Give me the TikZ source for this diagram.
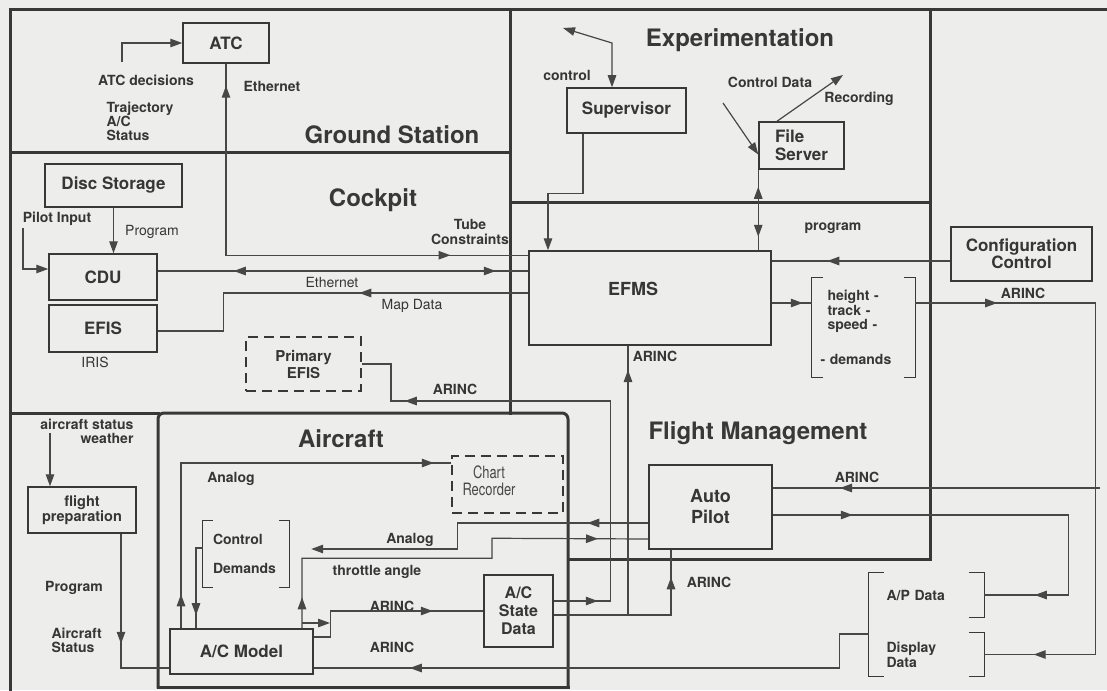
\documentclass[tikz,border=0pt]{standalone}
\usepackage{fontspec}
\setmainfont{TeX Gyre Heros}
\usepackage{graphicx}
\usepackage{tikz}
\usetikzlibrary{arrows.meta,positioning,calc,decorations.markings}
\definecolor{papel}{HTML}{EDEDEB}
\definecolor{tinta}{HTML}{363636}
\definecolor{trazo}{HTML}{474747}
\definecolor{marco}{HTML}{383838}
\newcommand{\letra}[2]{\fontsize{#1}{#2}\selectfont}

\begin{document}
\begin{tikzpicture}[x=1pt,y=-1pt,
  >={Triangle[length=12pt,width=8.5pt]},
  every node/.style={text=tinta,font=\letra{14}{14}\bfseries},
  caja/.style={draw=marco,line width=1.5pt,fill=papel,inner sep=0pt,align=center,
               font=\letra{17}{18}\bfseries},
  cajadisc/.style={caja,dash pattern=on 10pt off 6pt},
  region/.style={draw=marco,line width=3pt,line cap=rect},
  conector/.style={color=trazo,line width=1.2pt},
  flecha/.style={conector,->},
  punta/.style={postaction={decorate,decoration={markings,
      mark=at position #1 with {\arrow{>}}}}},
  puntainv/.style={postaction={decorate,decoration={markings,
      mark=at position #1 with {\arrowreversed{>}}}}},
  corchete/.style={inner sep=0pt,align=left},
  llave/.style={draw=marco,line width=1.3pt},
  titulo/.style={font=\letra{24}{26}\bfseries,text=marco},
  fino/.style={font=\letra{14}{14}}
]
\useasboundingbox (0,0) rectangle (1107,690);
\fill[papel] (0,0) rectangle (1107,690);

% areas
\draw[region] (10,690) -- (10,10) -- (1107,10);
\draw[region] (510,10) -- (510,413);
\draw[region] (10,152) -- (510,152);
\draw[region] (510,202) -- (930,202);
\draw[region] (930,10) -- (930,559) -- (568,559);
\draw[region] (10,413) -- (158,413);
\draw[region,rounded corners=6pt] (158,687) -- (158,413) -- (568,413) -- (568,687);
\draw[region] (158,687) -- (568,687);

\node[titulo] (tgs) at (392,135) {Ground Station};
\node[titulo] (tck) at (373,200) {Cockpit};
\node[titulo] (tex) at (740,40) {Experimentation};
\node[titulo] (tfm) at (758,433) {Flight Management};
\node[titulo] (tac) at (341,439) {Aircraft};

% blocks
\node[caja,minimum width=86pt,minimum height=40pt] (atc) at (226,43) {ATC};
\node[caja,minimum width=137pt,minimum height=43pt] (disco) at (113.5,185.5) {Disc Storage};
\node[caja,minimum width=108pt,minimum height=46pt] (cdu) at (103,277) {CDU};
\node[caja,minimum width=108pt,minimum height=47pt] (efis) at (103,328.5) {EFIS};
\node[cajadisc,minimum width=115pt,minimum height=54pt,font=\letra{15}{17}\bfseries]
  (primario) at (303.5,364) {Primary\\EFIS};
\node[caja,minimum width=119pt,minimum height=45pt] (supervisor) at (626.5,110.5) {Supervisor};
\node[caja,minimum width=85pt,minimum height=47pt,align=left] (servidor) at (801.5,145.5) {File\\Server};
\node[caja,minimum width=242pt,minimum height=94pt,
  label={[xshift=-17pt,yshift=9pt,font=\letra{18}{18}\bfseries]center:EFMS}] (efms) at (650,298) {};
\node[caja,minimum width=141pt,minimum height=54pt,font=\letra{17}{16}\bfseries]
  (configuracion) at (1021.5,254) {Configuration\\Control};
\node[caja,minimum width=123pt,minimum height=84pt,font=\letra{18}{21}\bfseries]
  (autopiloto) at (710.5,507) {Auto\\Pilot};
\node[caja,minimum width=69pt,minimum height=72pt,font=\letra{16}{18}\bfseries]
  (estado) at (518.5,611) {A/C\\State\\Data};
\node[caja,minimum width=143pt,minimum height=45pt] (modelo) at (241.5,651.5) {A/C Model};
\node[cajadisc,minimum width=111pt,minimum height=57pt,
  label={[xshift=-18.5pt,yshift=4pt,align=center,font=\letra{17}{17},text=trazo]center:{\scalebox{0.76}[1]{Chart}\\\scalebox{0.76}[1]{Recorder}}}]
  (registrador) at (507.5,484.5) {};
\node[caja,minimum width=108pt,minimum height=46pt,font=\letra{14.5}{15}\bfseries]
  (preparacion) at (82,510) {flight\\preparation};

% bracketed groups
\node[corchete,text width=72pt,minimum width=103pt,minimum height=99pt,font=\letra{14}{14.5}\bfseries]
  (demandas) at (863.5,327.5) {height -\\track -\\speed -\\[20pt]\hspace*{-7pt}- demands};
\node[corchete,text width=66pt,minimum width=86pt,minimum height=66pt,font=\letra{14}{16}\bfseries]
  (demctrl) at (246,554) {Control\\[13pt]Demands};
\node[corchete,text width=80pt,minimum width=115pt,minimum height=44pt] (apdatos) at (926.5,595) {A/P Data};
\node[corchete,text width=80pt,minimum width=115pt,minimum height=43pt,font=\letra{14}{15}\bfseries]
  (visdatos) at (926.5,654.5) {Display\\Data};
\draw[llave] ([xshift=11pt]demandas.north west) -- (demandas.north west) -- (demandas.south west) -- ++(11,0);
\draw[llave] ([xshift=-11pt]demandas.north east) -- (demandas.north east) -- (demandas.south east) -- ++(-11,0);
\draw[llave] ([xshift=10pt]demctrl.north west) -- (demctrl.north west) -- (demctrl.south west) -- ++(10,0);
\draw[llave] ([xshift=-10pt]demctrl.north east) -- (demctrl.north east) -- (demctrl.south east) -- ++(-10,0);
\draw[llave] ([xshift=15pt]apdatos.north west) -- (apdatos.north west) -- (visdatos.south west) -- ++(15,0);
\draw[llave] ([xshift=-15pt]apdatos.north east) -- (apdatos.north east) -- (apdatos.south east) -- ++(-15,0);
\draw[llave] ([xshift=-15pt]visdatos.north east) -- (visdatos.north east) -- (visdatos.south east) -- ++(-15,0);

% labels
\foreach \x/\y [count=\n] in {455/389,1023/293,655/356,857/477,709/582,392/606,392/647}
  \node (arinc\n) at (\x,\y) {ARINC};
\node (decisiones) at (146,80) {ATC decisions};
\node[anchor=west,align=left] (trayectoria) at (103,121) {Trajectory\\A/C\\Status};
\node[anchor=west] (ethatc) at (240,86) {Ethernet};
\node (pilotin) at (57,219) {Pilot Input};
\node[fino] (progcdu) at (152,232) {Program};
\node[align=center,font=\letra{14}{15}\bfseries] (tubo) at (470,232) {Tube\\Constraints};
\node[fino] (ethcdu) at (332,282) {Ethernet};
\node[fino] (mapa) at (412,306) {Map Data};
\node[fino] (iris) at (95,362) {IRIS};
\node (ctrl) at (567,75) {control};
\node (ctrldata) at (770,82) {Control Data};
\node (grab) at (859,99) {Recording};
\node (prog) at (833,228) {program};
\node (analog1) at (231,479) {Analog};
\node (analog2) at (410,540) {Analog};
\node (acelerador) at (377,572) {throttle angle};
\node[anchor=east,align=right] (meteo) at (137,431) {aircraft status\\weather};
\node (progprep) at (74,588) {Program};
\node[anchor=west,align=left] (estadoavion) at (48,640) {Aircraft\\Status};

% ground station and cockpit links
\coordinate (decis) at (122,62);
\draw[flecha] (decis) |- (atc.west);
\draw[conector,puntainv=22pt,punta=416pt] (atc.south) |- ([yshift=-5pt]efms.north west);
\draw[flecha] (disco.south) -- (disco.south |- cdu.north);
\coordinate (piloto) at (23,228);
\draw[flecha] (piloto) |- ([yshift=8pt]cdu.west);
\draw[conector,puntainv=76pt,punta=338pt] ([yshift=6pt]cdu.east) -- ([yshift=6pt]cdu.east -| efms.west);
\draw[conector,punta=169pt] ([yshift=5pt]efms.west) -- ++(-305,0) |- ([yshift=-2.5pt]efis.east);
\draw[conector,punta=44pt,punta=463pt] ([yshift=10pt]estado.east) -- ++(57,0) |- (391,401) |- (primario.east);

% experimentation links
\coordinate (mando) at (563,28);
\draw[conector,<->] (mando) -- (612,43) -- ([xshift=-14.5pt]supervisor.north);
\draw[flecha] ([xshift=-43.5pt]supervisor.south) -- ++(0,60) -| ([xshift=-102pt]efms.north);
\coordinate (datosctl) at (723,103);
\draw[flecha] (datosctl) -- ([yshift=-9pt]servidor.west);
\coordinate (registro) at (843,75);
\draw[flecha] ([xshift=-24.5pt]servidor.north) -- (registro);
\draw[conector,puntainv=17pt,punta=67pt] (servidor.south west) -- (servidor.south west |- efms.north);

% flight management links
\draw[conector,punta=123pt] ([yshift=-7pt]configuracion.west) -- ([yshift=-7pt]configuracion.west -| efms.east);
\draw[conector,punta=31pt] ([yshift=-5pt]efms.east) -- ([yshift=-5pt]efms.east -| demandas.west);
\draw[conector,punta=82pt,punta=593pt] ([yshift=24.5pt]demandas.east) -- ++(180,0) |- (visdatos.east);
\draw[conector,punta=80pt,punta=410pt] ([yshift=-8pt]autopiloto.east) -- ++(296,0) |- (apdatos.east);
\coordinate (entrada) at (1100,488);
\draw[conector,punta=260pt] (entrada) -- (entrada -| autopiloto.east);
\draw[conector,punta=155pt] ([yshift=-4pt]estado.east) -| ([xshift=-39.5pt]autopiloto.south);
\coordinate (rama) at (628,615);
\draw[conector,punta=245pt] (rama) -- (rama |- efms.south);

% aircraft links
\draw[flecha,punta=61pt] ([yshift=-16pt]autopiloto.west) -- ++(-191,0) |- ([xshift=22pt,yshift=5pt]demctrl.east);
\draw[conector,punta=31pt,punta=386pt] ([xshift=60.5pt]modelo.north) -- ++(0,-70) -- ++(190,0)
  -- ++(0,-20) -- ([yshift=-32pt]autopiloto.west);
\draw[conector,punta=34pt,punta=418pt] ([xshift=-60.5pt]modelo.north) |- ([yshift=21.5pt]registrador.west);
\draw[conector,punta=74pt] ([yshift=6pt]demctrl.west) -| ([xshift=-45.5pt]modelo.north);
\draw[conector,punta=145pt] ([yshift=14.5pt]modelo.east) -- ++(17,0) |- (estado.west);
\coordinate (codo) at (330,614);
\coordinate (nudo) at (302,623);
\draw[flecha] (nudo) -- (nudo -| codo);
\draw[conector,punta=493pt] ([yshift=20.5pt]visdatos.west) -- ++(-29,0) |- ([yshift=-16.5pt]modelo.east);
\draw[conector,punta=110pt] ([xshift=39pt]preparacion.south) |- ([yshift=-16.5pt]modelo.west);
\coordinate (estadoac) at (50,433);
\draw[flecha] (estadoac) -- (estadoac |- preparacion.north);
\end{tikzpicture}
\end{document}
